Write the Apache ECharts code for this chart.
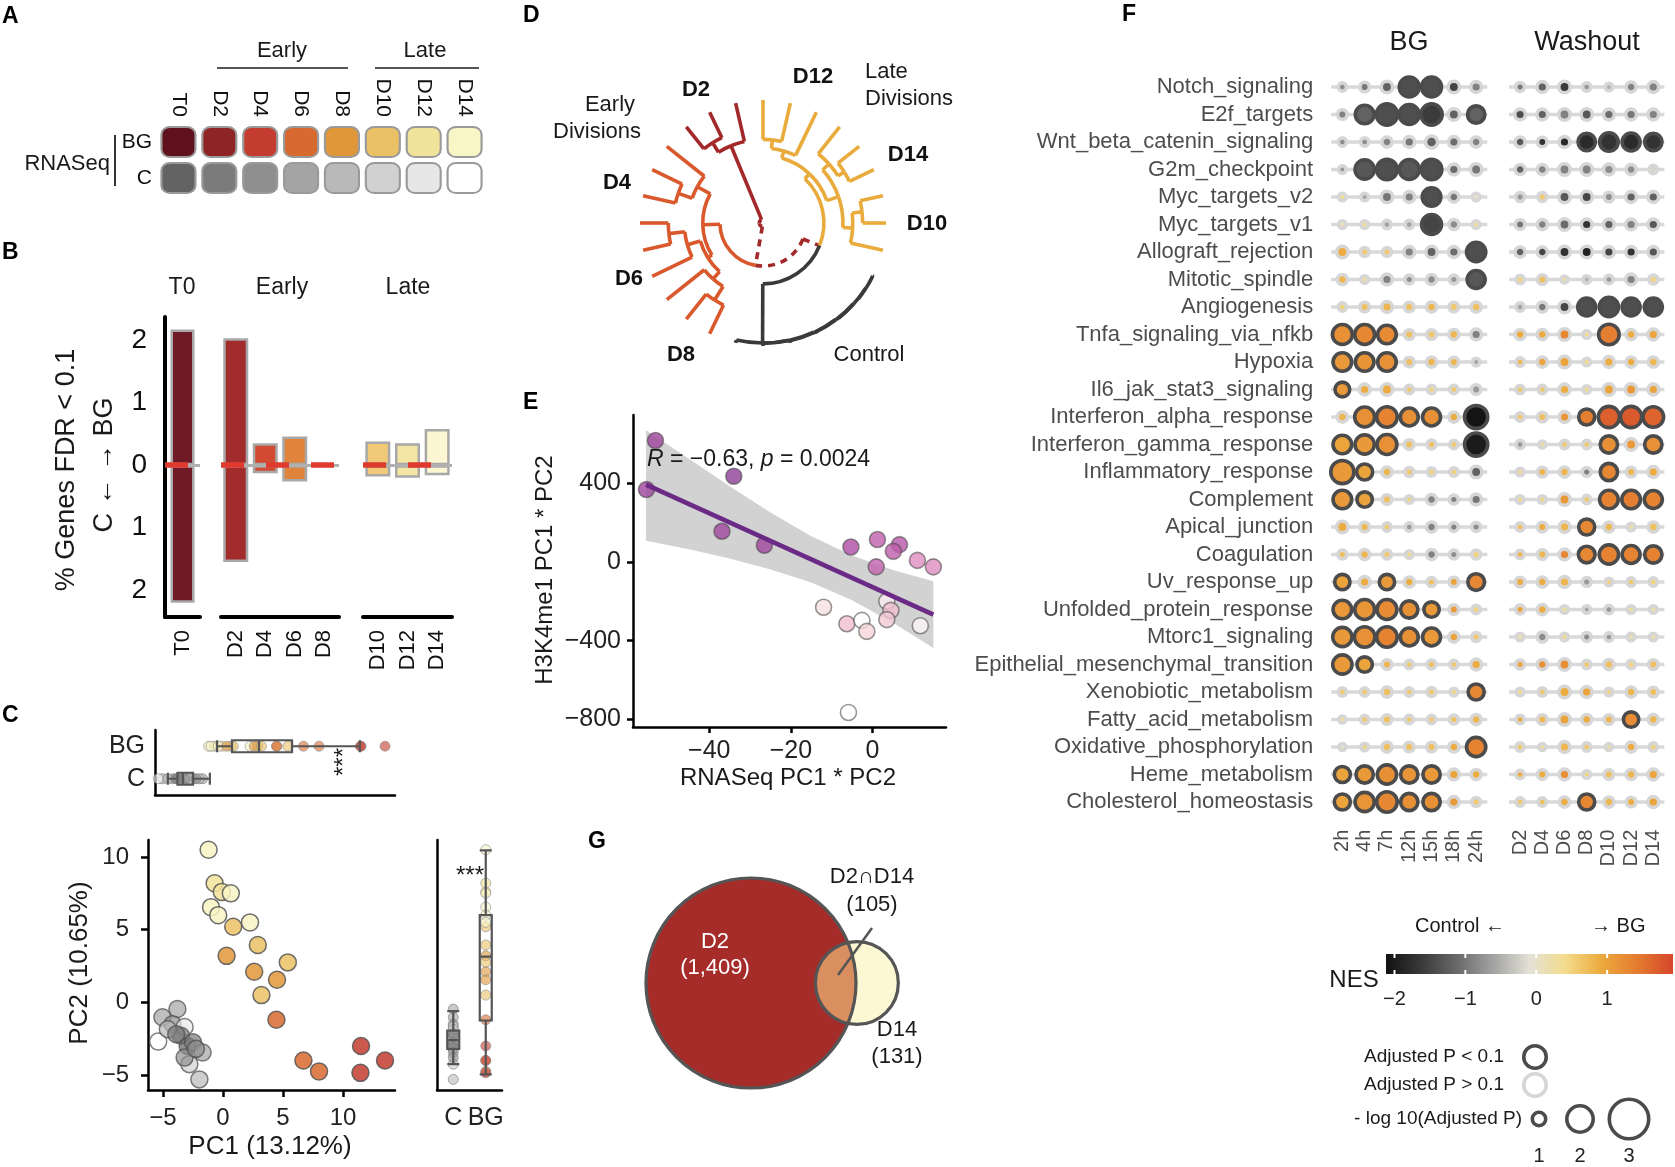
<!DOCTYPE html>
<html><head><meta charset="utf-8">
<script src="https://cdn.jsdelivr.net/npm/echarts@6.0.0/dist/echarts.min.js"></script>
<style>html,body{margin:0;padding:0;background:#fff;}#chart{width:1675px;height:1167px;}</style>
</head><body><div id="chart"></div>
<script>
const FONT = '"Liberation Sans", Arial, Helvetica, sans-serif';

/* ================= DATA ================= */
// Panel A
const daysA = ['T0','D2','D4','D6','D8','D10','D12','D14'];
const rowsA = ['C','BG'];

// Panel B (% genes FDR<0.1 ; up = BG, down = C)
const catsT0 = ['T0'];
const catsEarly = ['D2','D4','D6','D8'];
const catsLate = ['D10','D12','D14'];
const upT0 = [2.17], downT0 = [2.2];
const upEarly = [2.03, 0.35, 0.46, 0], downEarly = [1.55, 0.13, 0.26, 0];
const upLate = [0.38, 0.35, 0.58], downLate = [0.18, 0.2, 0.16];
const bTicks = [-2, -1, 0, 1, 2];

// Panel C (PCA)
const bgPC1 = [-1.2,-0.7,-0.1,0.65,-1.0,-0.4,0.85,2.25,0.3,2.9,5.4,2.6,4.5,3.2,4.45,6.7,8.0,11.5,11.45,13.5];
const bgPC2 = [10.5,8.2,7.6,7.5,6.55,6.0,5.2,5.5,3.2,3.95,2.75,2.1,1.55,0.5,-1.2,-4.0,-4.75,-3.0,-4.85,-4.0];
const bgDay = ['D14','D12','D12','D14','D14','D14','D10','D14','D8','D10','D10','D8','D8','D10','D6','D6','D6','D4','D4','D4'];
const ctlPC1 = [-3.8,-5.05,-4.2,-3.2,-3.5,-5.4,-2.95,-2.5,-1.7,-2.8,-1.97,-3.2,-4.6,-3.9,-2.25];
const ctlPC2 = [-0.46,-1.03,-1.5,-1.7,-2.3,-2.7,-3.0,-2.75,-3.45,-4.25,-5.3,-3.8,-1.85,-2.2,-3.2];
const ctlDay = ['D6','D6','D4','D12','D2','D14','T0','D2','D6','D10','D8','D4','D8','D2','D4'];
const groupsC = ['C','BG'];
const boxPC1C = [-4.6,-3.8,-3.35,-2.5,-1.1];
const boxPC1BG = [-0.5,0.75,3.0,5.75,11.4];
const boxPC2C = [-4.25,-3.2,-2.6,-1.95,-0.6];
const boxPC2BG = [-4.95,-1.25,3.15,6.0,10.45];
const cTicks = [-5, 0, 5, 10];

// Panel D (dendrogram: [height, child, child]; leaves = sample group)
const dendro = [3,
  [35,
    [49.5,
      [55, [61, [68,'D12','D12'], 'D12'],
           [65, [72,'D14',[78,'D14','D14']], [73,[81,'D10','D10'],'D10']]],
      [97.6,[97.9,[98.2,[98.5,[98.8,[99.1,'C','C'],'C'],'C'],'C'],'C'],'C']
    ],
    [49,
      [53, [61,[74,'D8','D8'],'D8'], [64,'D6',[77,'D6','D6']]],
      [61, [73,'D4','D4'], 'D4']
    ]
  ],
  [68, [77,'D2','D2'], 'D2']
];

// Panel E
const eX = [-53.2,-55.4,-34.0,-36.9,-26.5,-5.3,1.2,6.6,5.1,0.9,11.0,14.9,3.5,4.5,3.5,-12.0,-6.3,-2.6,-1.4,11.7,-5.9];
const eY = [617,368,436,156,85,76,114,88,54,-25,8,-25,-200,-246,-293,-230,-314,-297,-353,-324,-765];
const eShade = [0.92,0.92,1.0,0.9,0.9,0.82,0.7,0.75,0.72,0.68,0.5,0.5,0.1,0.3,0.25,0.15,0.3,0.0,0.2,0.05,0.0];
const eFitX = [-55.5, 14.9], eFitY = [393, -268];
const eBandX = [-55.5,-45,-35,-25,-15,-5,5,14.9];
const eBandLo = [108,65,17,-38,-105,-195,-309,-438];
const eBandHi = [670,525,385,252,131,33,-41,-98];
const eXTicks = [-40,-20,0], eYTicks = [-800,-400,0,400];

// Panel F
const hallmarks = ['Notch_signaling','E2f_targets','Wnt_beta_catenin_signaling','G2m_checkpoint','Myc_targets_v2','Myc_targets_v1','Allograft_rejection','Mitotic_spindle','Angiogenesis','Tnfa_signaling_via_nfkb','Hypoxia','Il6_jak_stat3_signaling','Interferon_alpha_response','Interferon_gamma_response','Inflammatory_response','Complement','Apical_junction','Coagulation','Uv_response_up','Unfolded_protein_response','Mtorc1_signaling','Epithelial_mesenchymal_transition','Xenobiotic_metabolism','Fatty_acid_metabolism','Oxidative_phosphorylation','Heme_metabolism','Cholesterol_homeostasis'];
const bgTimes = ['2h','4h','7h','12h','15h','18h','24h'];
const woDays = ['D2','D4','D6','D8','D10','D12','D14'];
const nesBG = [
[-0.8,-1.0,-1.2,-1.4,-1.4,-1.5,-0.9],[-0.9,-1.2,-1.4,-1.4,-1.6,-1.2,-1.2],[-0.8,-0.8,-0.9,-1.0,-1.2,-1.1,-0.9],
[-0.7,-1.3,-1.4,-1.3,-1.4,-1.1,-1.0],[0.3,-0.6,-1.0,-0.9,-1.4,-1.0,0.0],[0.1,0.3,-0.6,-0.6,-1.5,-0.8,0.3],
[0.9,0.6,0.6,-0.9,-1.2,-1.1,-1.4],[0.8,0.3,-0.9,-0.8,-0.8,-0.7,-1.3],[0.5,0.7,0.8,0.7,0.8,0.6,0.7],
[1.2,1.3,1.25,0.7,0.6,0.8,-0.9],[1.1,1.15,1.2,0.7,0.8,0.8,-0.6],[1.1,0.9,0.9,0.6,0.5,0.6,-0.7],
[0.8,1.2,1.35,1.2,1.2,0.9,-2.1],[1.0,1.1,1.2,0.7,0.7,0.6,-2.0],[1.1,1.0,0.8,0.6,0.5,0.5,-1.2],
[1.1,1.0,0.7,0.5,-0.9,-0.9,-1.0],[0.9,0.8,0.6,-0.7,-0.9,-0.9,-0.8],[0.7,0.8,0.6,0.4,-0.9,-0.8,0.5],
[1.0,0.9,1.1,0.9,0.7,1.0,1.3],[1.1,1.15,1.25,1.2,1.1,1.1,0.5],[1.1,1.2,1.35,1.2,1.1,1.0,0.6],
[1.1,1.0,0.8,0.6,0.7,0.6,0.9],[0.6,0.6,0.7,0.6,0.6,0.5,1.3],[0.4,0.6,0.7,0.6,0.6,0.7,0.8],
[0.0,0.5,0.7,0.7,0.7,0.9,1.35],[1.0,1.1,1.2,1.15,1.1,1.0,0.9],[1.0,1.15,1.3,1.2,1.2,1.1,0.6]];
const lpBG = [
[0.6,0.7,0.85,1.5,1.5,0.85,0.8],[0.7,1.4,1.6,1.5,1.6,0.85,1.3],[0.6,0.6,0.75,0.8,0.9,0.8,0.75],
[0.55,1.45,1.55,1.5,1.55,0.8,0.85],[0.55,0.55,0.85,0.8,1.4,0.75,0.55],[0.55,0.55,0.6,0.6,1.5,0.75,0.55],
[0.85,0.65,0.65,0.8,0.85,0.8,1.45],[0.75,0.55,0.8,0.65,0.75,0.65,1.35],[0.6,0.7,0.8,0.7,0.75,0.7,0.75],
[1.5,1.5,1.4,0.7,0.7,0.75,0.8],[1.4,1.4,1.4,0.7,0.75,0.7,0.55],[1.1,0.8,0.85,0.6,0.6,0.6,0.7],
[0.75,1.5,1.55,1.35,1.35,0.75,1.75],[1.4,1.45,1.5,0.7,0.65,0.6,1.75],[1.75,1.2,0.75,0.65,0.6,0.6,0.85],
[1.4,1.15,0.7,0.55,0.75,0.65,0.8],[0.85,0.7,0.6,0.6,0.75,0.65,0.65],[0.65,0.75,0.65,0.55,0.75,0.65,0.65],
[1.15,0.8,1.15,0.75,0.65,0.7,1.25],[1.4,1.5,1.5,1.3,1.15,0.7,0.6],[1.45,1.55,1.55,1.35,1.35,0.75,0.65],
[1.45,1.15,0.7,0.6,0.65,0.6,0.8],[0.6,0.6,0.75,0.6,0.65,0.55,1.2],[0.5,0.6,0.7,0.6,0.6,0.65,0.75],
[0.5,0.55,0.75,0.7,0.7,0.75,1.45],[1.2,1.3,1.45,1.3,1.3,0.8,0.75],[1.2,1.45,1.55,1.3,1.3,0.8,0.65]];
const nesWO = [
[-1.0,-1.2,-1.6,-0.7,-0.5,-0.9,-0.9],[-1.4,-1.2,-0.9,-1.3,-1.1,-1.0,-0.9],[-1.3,-1.7,-1.8,-1.8,-1.7,-1.8,-1.7],
[-1.2,-0.9,-0.9,-0.9,-0.8,-0.8,-0.2],[-0.7,0.6,-1.3,-1.5,-0.8,-1.2,-1.2],[-1.0,-0.9,-1.1,-1.7,-1.2,-0.9,-1.3],
[-1.2,-1.5,-1.7,-1.9,-1.5,-1.7,-1.3],[0.5,0.7,0.3,-0.5,-0.7,-0.9,0.5],[-0.6,-1.0,-1.5,-1.4,-1.4,-1.4,-1.4],
[0.9,0.9,1.3,0.4,1.4,0.9,1.0],[0.8,1.0,1.0,0.4,0.9,0.9,0.8],[0.6,0.6,0.9,0.4,1.0,1.1,1.0],
[0.6,0.7,1.1,1.4,1.7,1.75,1.65],[-0.7,0.3,0.6,0.6,1.2,1.1,1.2],[0.4,0.8,0.8,-0.9,1.3,0.8,0.9],
[0.4,0.5,1.1,0.6,1.35,1.4,1.35],[0.7,0.9,0.8,1.3,0.8,0.2,0.7],[0.8,0.8,1.3,1.3,1.35,1.35,1.35],
[0.9,0.9,0.8,-0.7,0.5,0.6,0.5],[1.0,0.9,0.3,-0.6,-0.7,0.3,0.2],[0.2,-0.8,0.4,-0.8,-0.7,0.2,0.2],
[1.0,1.2,1.2,0.6,0.7,0.5,0.7],[0.4,0.6,0.9,1.0,0.5,0.8,0.7],[0.9,0.8,1.0,0.9,0.8,1.25,0.8],
[0.6,0.3,0.8,0.6,0.3,0.9,0.5],[0.9,0.9,1.2,0.5,0.7,0.8,1.0],[0.6,0.7,0.9,1.3,0.8,0.9,1.0]];
const lpWO = [
[0.65,0.8,0.85,0.6,0.55,0.75,0.8],[0.8,0.8,0.85,0.85,0.8,0.8,0.8],[0.75,0.7,0.8,1.3,1.4,1.35,1.3],
[0.75,0.75,0.85,0.85,0.8,0.75,0.6],[0.65,0.65,0.85,0.85,0.7,0.8,0.8],[0.7,0.75,0.85,0.8,0.8,0.8,0.8],
[0.75,0.75,0.85,0.85,0.8,0.8,0.8],[0.6,0.7,0.5,0.55,0.6,0.8,0.65],[0.6,0.75,0.85,1.35,1.45,1.35,1.35],
[0.75,0.75,0.85,0.55,1.55,0.75,0.8],[0.6,0.75,0.85,0.55,0.8,0.75,0.75],[0.6,0.6,0.8,0.55,0.85,0.85,0.8],
[0.6,0.7,0.8,1.2,1.6,1.6,1.55],[0.6,0.5,0.6,0.6,1.3,0.85,1.3],[0.55,0.7,0.75,0.65,1.3,0.7,0.8],
[0.55,0.55,0.85,0.6,1.4,1.4,1.35],[0.6,0.7,0.8,1.2,0.75,0.55,0.75],[0.6,0.7,0.8,1.25,1.45,1.35,1.3],
[0.7,0.75,0.8,0.65,0.55,0.6,0.6],[0.65,0.75,0.55,0.55,0.6,0.55,0.55],[0.55,0.75,0.55,0.65,0.6,0.55,0.55],
[0.65,0.75,0.85,0.6,0.75,0.6,0.7],[0.55,0.6,0.85,0.8,0.55,0.75,0.7],[0.6,0.7,0.85,0.75,0.7,1.15,0.75],
[0.6,0.5,0.8,0.6,0.5,0.75,0.6],[0.6,0.7,0.8,0.55,0.7,0.75,0.8],[0.6,0.6,0.75,1.2,0.75,0.7,0.8]];
const nesTicks = [-2, -1, 0, 1];
const sizeLegend = [1, 2, 3];

// Panel G
const vennSets = ['D2', 'D14'];
const vennOnly = [1409, 131];
const vennShared = 105;

/* ================= STYLES ================= */
const paletteBG = {T0:'#5f111d',D2:'#8e2424',D4:'#c33c2f',D6:'#d8692f',D8:'#e0973a',D10:'#ebc166',D12:'#f2e39a',D14:'#f8f5c6'};
const paletteC = {T0:'#636363',D2:'#7b7b7b',D4:'#8f8f8f',D6:'#a4a4a4',D8:'#b9b9b9',D10:'#d1d1d1',D12:'#e7e7e7',D14:'#ffffff'};
const paletteBar = {T0:'#701a27',D2:'#a22b2b',D4:'#d14a31',D6:'#e0843b',D8:'#e6a13f',D10:'#f1c977',D12:'#f6e6a5',D14:'#fcf6d3'};
const famOf = {D2:'d2',D4:'early',D6:'early',D8:'early',D10:'late',D12:'late',D14:'late',C:'ctrl'};
const famList = ['d2','early','late','ctrl','mix'];
const famColor = {d2:'#a3282a', early:'#d9582c', late:'#e9ab3b', ctrl:'#3a3a3a', mix:'#a3282a'};
const nesMin = -2.12, nesMax = 1.93;
const nesColors = ['#121212','#3a3a3a','#6b6b6b','#a3a3a3','#e3e1d6','#f3dc8c','#ecaa3e','#e47c30','#d6472b'];
const dotDiam = L => 4 + 13 * L;
const RING = 3.6;
const minus = v => (v < 0 ? '\u2212' + Math.abs(v) : String(v));

/* ================= HELPERS ================= */
function txt(x, y, text, o) {
  o = o || {};
  const st = {text, fill: o.color || '#1a1a1a', fontSize: o.size || 22, fontFamily: FONT,
    fontWeight: o.bold ? 'bold' : 'normal', fontStyle: o.italic ? 'italic' : 'normal',
    align: o.align || 'center', textAlign: o.align || 'center', verticalAlign: o.va || 'middle', textVerticalAlign: o.va || 'middle'};
  if (o.rich) st.rich = o.rich;
  return {type: 'text', x, y, rotation: o.rot || 0, silent: true, z: 50, style: st};
}
function ln(x1, y1, x2, y2, color, w) {
  return {type: 'line', silent: true, z: 50, shape: {x1, y1, x2, y2}, style: {stroke: color, lineWidth: w}};
}
const axLine = w => ({show: true, onZero: false, lineStyle: {color: '#000', width: w}});
const noSplit = {show: false};

/* ================= DENDROGRAM LAYOUT ================= */
const nLeaves = (function cnt(n){ return typeof n === 'string' ? 1 : n.slice(1).reduce((s,c)=>s+cnt(c),0); })(dendro);
let leafIdx = 0;
function layout(n) {
  if (typeof n === 'string') { return {r: 100, a: (leafIdx++) * 360 / nLeaves, fam: famOf[n]}; }
  const kids = n.slice(1).map(layout);
  const a = kids.reduce((s,k)=>s+k.a,0) / kids.length;
  const fam = kids.every(k => k.fam === kids[0].fam) ? kids[0].fam : 'mix';
  return {r: n[0], a, fam, kids};
}
const treeRoot = layout(dendro);
const dSegs = [];
(function walk(nd) {
  if (!nd.kids) return;
  nd.kids.forEach(k => {
    const fi = famList.indexOf(k.fam);
    dSegs.push([nd.r, nd.r, nd.a, k.a, 1, fi]);   // arc at parent radius
    dSegs.push([nd.r, k.r, k.a, k.a, 0, fi]);     // radial branch
    walk(k);
  });
})(treeRoot);

/* ================= VENN LAYOUT ================= */
const vR1 = Math.sqrt((vennOnly[0] + vennShared) / Math.PI);
const vR2 = Math.sqrt((vennOnly[1] + vennShared) / Math.PI);
function lensArea(d, r1, r2) {
  const a1 = Math.acos((d*d + r1*r1 - r2*r2) / (2*d*r1));
  const a2 = Math.acos((d*d + r2*r2 - r1*r1) / (2*d*r2));
  return r1*r1*a1 + r2*r2*a2 - 0.5*Math.sqrt((-d+r1+r2)*(d+r1-r2)*(d-r1+r2)*(d+r1+r2));
}
let lo = Math.abs(vR1 - vR2) + 1e-6, hi = vR1 + vR2 - 1e-6;
for (let i = 0; i < 60; i++) { const m = (lo+hi)/2; if (lensArea(m, vR1, vR2) > vennShared) lo = m; else hi = m; }
const vD = (lo + hi) / 2;

/* ================= SERIES ================= */
const series = [];
// A tiles
const tileData = [];
rowsA.forEach((row, ri) => daysA.forEach((d, di) => tileData.push({value: [di, ri], itemStyle: {color: (row === 'BG' ? paletteBG : paletteC)[d]}})));
series.push({type: 'scatter', xAxisIndex: 0, yAxisIndex: 0, symbol: 'roundRect', symbolSize: [34, 30], data: tileData,
  itemStyle: {borderColor: '#9a9a9a', borderWidth: 2, opacity: 1}, silent: true});

// B bars
function bSeries(gi, cats, up, down, bw) {
  const col = i => paletteBar[cats[i]];
  series.push({type: 'bar', xAxisIndex: gi, yAxisIndex: gi, stack: 's' + gi, barWidth: bw,
    data: up.map((v, i) => ({value: v, itemStyle: {color: col(i)}})),
    itemStyle: {borderColor: '#a8a8a8', borderWidth: 2.5}, silent: true});
  series.push({type: 'bar', xAxisIndex: gi, yAxisIndex: gi, stack: 's' + gi, barWidth: bw,
    data: down.map((v, i) => ({value: -v, itemStyle: {color: col(i)}})),
    itemStyle: {borderColor: '#a8a8a8', borderWidth: 2.5}, silent: true,
    markLine: {silent: true, symbol: 'none', label: {show: false}, animation: false,
      data: [{yAxis: 0, lineStyle: {color: '#b0b0b0', width: 3, type: 'solid'}},
             {yAxis: 0, lineStyle: {color: '#e0392e', width: 5.5, type: [23, 22]}}]}});
}
bSeries(1, catsT0, upT0, downT0, 24);
bSeries(2, catsEarly, upEarly, downEarly, 25);
bSeries(3, catsLate, upLate, downLate, 25);

// C top strip (PC1 by group)
series.push({type: 'scatter', xAxisIndex: 4, yAxisIndex: 4, symbolSize: 10, z: 2,
  data: ctlPC1.map((v, i) => ({value: [v, 'C'], itemStyle: {color: paletteC[ctlDay[i]]}})),
  itemStyle: {opacity: 0.6, borderColor: '#777', borderWidth: 1}});
series.push({type: 'scatter', xAxisIndex: 4, yAxisIndex: 4, symbolSize: 10, z: 2,
  data: bgPC1.map((v, i) => ({value: [v, 'BG'], itemStyle: {color: paletteBG[bgDay[i]]}})),
  itemStyle: {opacity: 0.6, borderColor: '#888', borderWidth: 1}});
series.push({type: 'boxplot', xAxisIndex: 4, yAxisIndex: 4, z: 3, boxWidth: [12, 12], data: [boxPC1C, boxPC1BG],
  itemStyle: {color: 'rgba(255,255,255,0)', borderColor: '#555', borderWidth: 2.2}, silent: true});
// C main scatter
series.push({type: 'scatter', xAxisIndex: 5, yAxisIndex: 5, symbolSize: 17,
  data: ctlPC1.map((v, i) => ({value: [v, ctlPC2[i]], itemStyle: {color: paletteC[ctlDay[i]]}})),
  itemStyle: {opacity: 0.7, borderColor: '#4a4a4a', borderWidth: 1.5}});
series.push({type: 'scatter', xAxisIndex: 5, yAxisIndex: 5, symbolSize: 17,
  data: bgPC1.map((v, i) => ({value: [v, bgPC2[i]], itemStyle: {color: paletteBG[bgDay[i]]}})),
  itemStyle: {opacity: 0.85, borderColor: '#555', borderWidth: 1.5}});
// C right strip (PC2 by group)
series.push({type: 'scatter', xAxisIndex: 6, yAxisIndex: 6, symbolSize: 10, z: 2,
  data: ctlPC2.map((v, i) => ({value: ['C', v], itemStyle: {color: paletteC[ctlDay[i]]}})),
  itemStyle: {opacity: 0.6, borderColor: '#777', borderWidth: 1}});
series.push({type: 'scatter', xAxisIndex: 6, yAxisIndex: 6, symbolSize: 10, z: 2,
  data: bgPC2.map((v, i) => ({value: ['BG', v], itemStyle: {color: paletteBG[bgDay[i]]}})),
  itemStyle: {opacity: 0.6, borderColor: '#888', borderWidth: 1}});
series.push({type: 'boxplot', xAxisIndex: 6, yAxisIndex: 6, z: 3, boxWidth: [12, 12], data: [boxPC2C, boxPC2BG],
  itemStyle: {color: 'rgba(255,255,255,0)', borderColor: '#555', borderWidth: 2.2}, silent: true});

// D dendrogram (polar)
series.push({type: 'custom', coordinateSystem: 'polar', polarIndex: 0, silent: true,
  dimensions: ['r1','r2','a1','a2','kind','fam'], encode: {radius: 0, angle: 2},
  data: dSegs,
  renderItem(params, api) {
    const r1 = api.value(0), r2 = api.value(1), a1 = api.value(2), a2 = api.value(3);
    const kind = api.value(4), fam = famList[api.value(5)];
    const cs = params.coordSys;
    const style = {stroke: famColor[fam], lineWidth: 3.6, fill: 'none', lineDash: fam === 'mix' ? [7, 6] : null, lineCap: 'butt'};
    if (kind === 0) {
      const p1 = api.coord([r1, a1]), p2 = api.coord([r2, a1]);
      return {type: 'line', shape: {x1: p1[0], y1: p1[1], x2: p2[0], y2: p2[1]}, style};
    }
    const loA = Math.min(a1, a2), hiA = Math.max(a1, a2);
    if (hiA - loA < 1e-6) return null;
    const p = api.coord([r1, loA]);
    const rad = Math.hypot(p[0] - cs.cx, p[1] - cs.cy);
    const sa = Math.atan2(p[1] - cs.cy, p[0] - cs.cx);
    return {type: 'arc', shape: {cx: cs.cx, cy: cs.cy, r: rad, startAngle: sa, endAngle: sa + (hiA - loA) * Math.PI / 180, clockwise: true}, style};
  }});

// E band, fit, points
series.push({type: 'custom', xAxisIndex: 7, yAxisIndex: 7, silent: true, z: 1, data: [[eBandX[0], eBandLo[0]]],
  renderItem(params, api) {
    const pts = [];
    eBandX.forEach((x, i) => pts.push(api.coord([x, eBandHi[i]])));
    for (let i = eBandX.length - 1; i >= 0; i--) pts.push(api.coord([eBandX[i], eBandLo[i]]));
    return {type: 'polygon', shape: {points: pts}, style: {fill: '#d2d2d2', stroke: 'none'}};
  }});
const eScatterIdx = series.length;
series.push({type: 'scatter', xAxisIndex: 7, yAxisIndex: 7, symbolSize: 16, z: 3,
  data: eX.map((x, i) => [x, eY[i], eShade[i]]),
  itemStyle: {opacity: 0.8, borderColor: 'rgba(70,70,70,0.7)', borderWidth: 1.6}});
series.push({type: 'line', xAxisIndex: 7, yAxisIndex: 7, z: 4, showSymbol: false, silent: true,
  data: [[eFitX[0], eFitY[0]], [eFitX[1], eFitY[1]]], lineStyle: {color: '#6b2a86', width: 4.5}});

// F dot plot
function rowLines(gi) {
  series.push({type: 'custom', xAxisIndex: gi, yAxisIndex: gi, silent: true, z: 1,
    data: hallmarks.map((h, i) => [0, i]),
    renderItem(params, api) {
      const cs = params.coordSys; const p = api.coord([0, api.value(1)]);
      return {type: 'line', shape: {x1: cs.x, y1: p[1], x2: cs.x + cs.width, y2: p[1]}, style: {stroke: '#d9d9d9', lineWidth: 3.5}};
    }});
}
function fData(nes, lp) {
  const d = [];
  nes.forEach((row, ri) => row.forEach((v, ci) => {
    const L = lp[ri][ci];
    d.push({value: [ci, ri, v, L], itemStyle: {borderColor: L > 1 ? '#4b4b4b' : '#d6d6d6'}});
  }));
  return d;
}
rowLines(8); rowLines(9);
const fIdx = [];
fIdx.push(series.length);
series.push({type: 'scatter', xAxisIndex: 8, yAxisIndex: 8, z: 3, data: fData(nesBG, lpBG),
  symbolSize: v => dotDiam(v[3]) - RING, itemStyle: {borderWidth: RING, opacity: 1}});
fIdx.push(series.length);
series.push({type: 'scatter', xAxisIndex: 9, yAxisIndex: 9, z: 3, data: fData(nesWO, lpWO),
  symbolSize: v => dotDiam(v[3]) - RING, itemStyle: {borderWidth: RING, opacity: 1}});

// G venn
series.push({type: 'custom', xAxisIndex: 10, yAxisIndex: 10, silent: true, data: [[0, 0]],
  renderItem(params, api) {
    const c1 = api.coord([0, 0]), c2 = api.coord([vD, 0]);
    const R1 = api.size([vR1, 0])[0], R2 = api.size([vR2, 0])[0];
    const d = c2[0] - c1[0];
    const xx = (d*d - R2*R2 + R1*R1) / (2*d); const h = Math.sqrt(R1*R1 - xx*xx);
    const tx = c1[0] + xx, ty = c1[1] - h, by = c1[1] + h;
    const lens = 'M' + tx + ' ' + ty + ' A' + R2 + ' ' + R2 + ' 0 0 0 ' + tx + ' ' + by +
                 ' A' + R1 + ' ' + R1 + ' 0 0 0 ' + tx + ' ' + ty + ' Z';
    return {type: 'group', children: [
      {type: 'circle', shape: {cx: c1[0], cy: c1[1], r: R1}, style: {fill: '#a52c29', stroke: 'none'}},
      {type: 'circle', shape: {cx: c2[0], cy: c2[1], r: R2}, style: {fill: '#fcf8d3', stroke: 'none'}},
      {type: 'path', shape: {pathData: lens}, style: {fill: '#d98f60', stroke: 'none'}},
      {type: 'circle', shape: {cx: c1[0], cy: c1[1], r: R1}, style: {fill: 'none', stroke: '#555', lineWidth: 3.2}},
      {type: 'circle', shape: {cx: c2[0], cy: c2[1], r: R2}, style: {fill: 'none', stroke: '#555', lineWidth: 3.2}}
    ]};
  }});

/* ================= AXES ================= */
const grid = [
  {left: 158, top: 124, width: 327, height: 72},
  {left: 165, top: 317, width: 35, height: 300},
  {left: 221, top: 317, width: 118, height: 300},
  {left: 363, top: 317, width: 89, height: 300},
  {left: 155, top: 730, width: 240, height: 65},
  {left: 148, top: 840, width: 247, height: 250},
  {left: 437, top: 840, width: 65, height: 250},
  {left: 633, top: 415, width: 313, height: 312},
  {left: 1331.2, top: 73.25, width: 156.1, height: 742.5},
  {left: 1509, top: 73.25, width: 155.4, height: 742.5},
  {left: 640, top: 872, width: 260, height: 222}
];
const bX = (gi, cats) => ({gridIndex: gi, type: 'category', data: cats, axisLine: axLine(4),
  axisTick: {alignWithLabel: true, interval: 0, length: 9, lineStyle: {width: 3.2, color: '#111'}},
  axisLabel: {interval: 0, rotate: 90, margin: 13, fontSize: 22, color: '#111', fontFamily: FONT}, splitLine: noSplit});
const fX = (gi, cats) => ({gridIndex: gi, type: 'category', data: cats, axisLine: {show: false},
  axisTick: {alignWithLabel: true, interval: 0, length: 8, lineStyle: {width: 3, color: '#333'}},
  axisLabel: {interval: 0, rotate: 90, margin: 14, fontSize: 20, color: '#4d4d4d', fontFamily: FONT}, splitLine: noSplit});
const xAxis = [
  {gridIndex: 0, type: 'category', data: daysA, position: 'top', axisLine: {show: false}, axisTick: {show: false},
    axisLabel: {interval: 0, rotate: 90, margin: 7, fontSize: 21, color: '#111', fontFamily: FONT}, splitLine: noSplit},
  bX(1, catsT0), bX(2, catsEarly), bX(3, catsLate),
  {gridIndex: 4, type: 'value', min: -5.67, max: 14.33, axisLine: axLine(2.5), axisTick: {show: false}, axisLabel: {show: false}, splitLine: noSplit},
  {gridIndex: 5, type: 'value', min: -6.25, max: 14.33, axisLine: axLine(2.5),
    axisTick: {customValues: cTicks, length: 7, lineStyle: {width: 2.5, color: '#000'}},
    axisLabel: {customValues: cTicks, formatter: minus, fontSize: 24, margin: 16, color: '#222', fontFamily: FONT}, splitLine: noSplit},
  {gridIndex: 6, type: 'category', data: groupsC, axisLine: axLine(2.5),
    axisTick: {alignWithLabel: true, interval: 0, length: 7, lineStyle: {width: 2.5, color: '#000'}},
    axisLabel: {interval: 0, fontSize: 25, margin: 16, color: '#222', fontFamily: FONT, hideOverlap: false}, splitLine: noSplit},
  {gridIndex: 7, type: 'value', min: -58.7, max: 18, axisLine: axLine(2.5),
    axisTick: {customValues: eXTicks, length: 6, lineStyle: {width: 2.5, color: '#000'}},
    axisLabel: {customValues: eXTicks, formatter: minus, fontSize: 25, margin: 12, color: '#222', fontFamily: FONT}, splitLine: noSplit},
  fX(8, bgTimes), fX(9, woDays),
  {gridIndex: 10, type: 'value', min: -23.2, max: 31.15, show: false, splitLine: noSplit}
];
const bY = (gi, show) => show ? {gridIndex: gi, type: 'value', min: -2.43, max: 2.37, axisLine: axLine(4),
    axisTick: {customValues: bTicks, length: 10, lineStyle: {width: 3.4, color: '#333'}},
    axisLabel: {customValues: bTicks, formatter: v => String(Math.abs(v)), fontSize: 28, margin: 18, color: '#111', fontFamily: FONT}, splitLine: noSplit}
  : {gridIndex: gi, type: 'value', min: -2.43, max: 2.37, show: false, splitLine: noSplit};
const yAxis = [
  {gridIndex: 0, type: 'category', data: rowsA, axisLine: {show: false}, axisTick: {show: false},
    axisLabel: {interval: 0, fontSize: 21, margin: 6, color: '#111', fontFamily: FONT}, splitLine: noSplit},
  bY(1, true), bY(2, false), bY(3, false),
  {gridIndex: 4, type: 'category', data: groupsC, axisLine: axLine(2.5),
    axisTick: {alignWithLabel: true, interval: 0, length: 7, lineStyle: {width: 2.5, color: '#000'}},
    axisLabel: {interval: 0, fontSize: 25, margin: 10, color: '#222', fontFamily: FONT}, splitLine: noSplit},
  {gridIndex: 5, type: 'value', min: -6.03, max: 11.17, axisLine: axLine(2.5),
    axisTick: {customValues: cTicks, length: 7, lineStyle: {width: 2.5, color: '#000'}},
    axisLabel: {customValues: cTicks, formatter: minus, fontSize: 24, margin: 19, color: '#222', fontFamily: FONT}, splitLine: noSplit},
  {gridIndex: 6, type: 'value', min: -6.03, max: 11.17, axisLine: axLine(2.5), axisTick: {show: false}, axisLabel: {show: false}, splitLine: noSplit},
  {gridIndex: 7, type: 'value', min: -839, max: 747, axisLine: axLine(2.5),
    axisTick: {customValues: eYTicks, length: 6, lineStyle: {width: 2.5, color: '#000'}},
    axisLabel: {customValues: eYTicks, formatter: minus, fontSize: 25, margin: 12, color: '#222', fontFamily: FONT}, splitLine: noSplit},
  {gridIndex: 8, type: 'category', data: hallmarks, inverse: true, axisLine: {show: false},
    axisTick: {alignWithLabel: true, interval: 0, length: 8, lineStyle: {width: 3, color: '#333'}},
    axisLabel: {interval: 0, fontSize: 22, margin: 18, color: '#4d4d4d', fontFamily: FONT}, splitLine: noSplit},
  {gridIndex: 9, type: 'category', data: hallmarks, inverse: true, show: false, splitLine: noSplit},
  {gridIndex: 10, type: 'value', min: -23.2, max: 23.2, show: false, splitLine: noSplit}
];

/* ================= GRAPHIC (titles, labels, legends) ================= */
const g = [];
// panel letters
[['A',2,17],['B',2,253],['C',2,716],['D',523,16],['E',523,403],['F',1122,15],['G',588,842]].forEach(p =>
  g.push(txt(p[1], p[2], p[0], {bold: true, size: 23, align: 'left', color: '#000'})));
// A
g.push(txt(282, 51, 'Early', {size: 22}));
g.push(txt(425, 51, 'Late', {size: 22}));
g.push(ln(217, 68, 348, 68, '#555', 2));
g.push(ln(375, 68, 479, 68, '#555', 2));
g.push(txt(110, 164, 'RNASeq', {size: 22, align: 'right'}));
g.push(ln(115, 135, 115, 186, '#333', 2));
// B
g.push(txt(182, 288, 'T0', {size: 23}));
g.push(txt(282, 288, 'Early', {size: 23}));
g.push(txt(408, 288, 'Late', {size: 23}));
g.push(txt(67, 470, '% Genes FDR < 0.1', {size: 27, rot: Math.PI / 2}));
g.push(txt(105, 465, 'C \u2190 \u2192 BG', {size: 27, rot: Math.PI / 2}));
// C
g.push(txt(344, 762, '***', {size: 24, rot: Math.PI / 2}));
g.push(txt(470, 876, '***', {size: 24}));
g.push(txt(270, 1147, 'PC1 (13.12%)', {size: 26}));
g.push(txt(80, 963, 'PC2 (10.65%)', {size: 26, rot: Math.PI / 2}));
// D
g.push(txt(610, 105, 'Early', {size: 22}));
g.push(txt(597, 132, 'Divisions', {size: 22}));
g.push(txt(865, 72, 'Late', {size: 22, align: 'left'}));
g.push(txt(865, 99, 'Divisions', {size: 22, align: 'left'}));
[['D2',696,90],['D12',813,77],['D14',908,155],['D10',927,224],['D4',617,183],['D6',629,279],['D8',681,355]].forEach(p =>
  g.push(txt(p[1], p[2], p[0], {size: 22, bold: true, color: '#111'})));
g.push(txt(869, 355, 'Control', {size: 22}));
// E
g.push(txt(545, 570, 'H3K4me1 PC1 * PC2', {size: 24, rot: Math.PI / 2}));
g.push(txt(788, 778, 'RNASeq PC1 * PC2', {size: 24}));
g.push(txt(647, 460, '{i|R} = \u22120.63, {i|p} = 0.0024', {size: 23, align: 'left',
  rich: {i: {fontStyle: 'italic', fontSize: 23, fontFamily: FONT, fill: '#1a1a1a'}}}));
// F titles
g.push(txt(1409, 43, 'BG', {size: 27}));
g.push(txt(1587, 43, 'Washout', {size: 27}));
// F colour legend
const cbX = 1386, cbY = 954, cbW = 287, cbH = 20;
g.push({type: 'rect', silent: true, z: 50, shape: {x: cbX, y: cbY, width: cbW, height: cbH},
  style: {fill: {type: 'linear', x: 0, y: 0, x2: 1, y2: 0, colorStops: nesColors.map((c, i) => ({offset: i / (nesColors.length - 1), color: c}))}}});
nesTicks.forEach(v => {
  const x = cbX + (v - nesMin) / (nesMax - nesMin) * cbW;
  g.push(ln(x, cbY, x, cbY + 4, '#fff', 2));
  g.push(ln(x, cbY + cbH - 4, x, cbY + cbH, '#fff', 2));
  g.push(txt(x, 999, minus(v), {size: 20, color: '#222'}));
});
g.push(txt(1415, 926, 'Control \u2190', {size: 20, align: 'left'}));
g.push(txt(1591, 926, '\u2192 BG', {size: 20, align: 'left'}));
g.push(txt(1354, 980, 'NES', {size: 24}));
// F size legend
g.push(txt(1504, 1057, 'Adjusted P < 0.1', {size: 19, align: 'right'}));
g.push(txt(1504, 1085, 'Adjusted P > 0.1', {size: 19, align: 'right'}));
g.push(txt(1522, 1119, '- log 10(Adjusted P)', {size: 19, align: 'right'}));
g.push({type: 'circle', silent: true, z: 50, shape: {cx: 1535, cy: 1057, r: (dotDiam(1.7) - RING) / 2}, style: {fill: 'none', stroke: '#4b4b4b', lineWidth: RING}});
g.push({type: 'circle', silent: true, z: 50, shape: {cx: 1535, cy: 1085, r: (dotDiam(1.7) - RING) / 2}, style: {fill: 'none', stroke: '#d6d6d6', lineWidth: RING}});
const szX = [1539, 1580, 1629];
sizeLegend.forEach((L, i) => {
  g.push({type: 'circle', silent: true, z: 50, shape: {cx: szX[i], cy: 1119, r: (dotDiam(L) - RING) / 2}, style: {fill: 'none', stroke: '#4b4b4b', lineWidth: RING}});
  g.push(txt(szX[i], 1156, String(L), {size: 20, color: '#222'}));
});
// G labels
g.push(txt(715, 942, vennSets[0], {size: 22, color: '#fff'}));
g.push(txt(715, 968, '(' + vennOnly[0].toLocaleString('en-US') + ')', {size: 22, color: '#fff'}));
g.push(txt(872, 877, vennSets[0] + '\u2229' + vennSets[1], {size: 22}));
g.push(txt(872, 905, '(' + vennShared + ')', {size: 22}));
g.push(ln(872, 928, 838, 975, '#555', 2.5));
g.push(txt(897, 1030, vennSets[1], {size: 22}));
g.push(txt(897, 1057, '(' + vennOnly[1] + ')', {size: 22}));

/* ================= OPTION ================= */
const option = {
  animation: false,
  backgroundColor: '#fff',
  textStyle: {fontFamily: FONT},
  grid, xAxis, yAxis,
  polar: {center: [763, 223], radius: 123},
  angleAxis: {type: 'value', min: 0, max: 360, startAngle: 90, clockwise: true, show: false, splitLine: noSplit},
  radiusAxis: {type: 'value', min: 0, max: 100, show: false, splitLine: noSplit},
  visualMap: [
    {type: 'continuous', show: false, seriesIndex: eScatterIdx, dimension: 2, min: 0, max: 1,
      inRange: {color: ['#ffffff', '#f6d6da', '#eaa6c6', '#d173b6', '#b14ca4', '#8f3f95']}},
    {type: 'continuous', show: false, seriesIndex: fIdx, dimension: 2, min: nesMin, max: nesMax,
      inRange: {color: nesColors}}
  ],
  series,
  graphic: {elements: g}
};
const chart = echarts.init(document.getElementById('chart'), null, {renderer: 'canvas'});
chart.setOption(option);
</script></body></html>
